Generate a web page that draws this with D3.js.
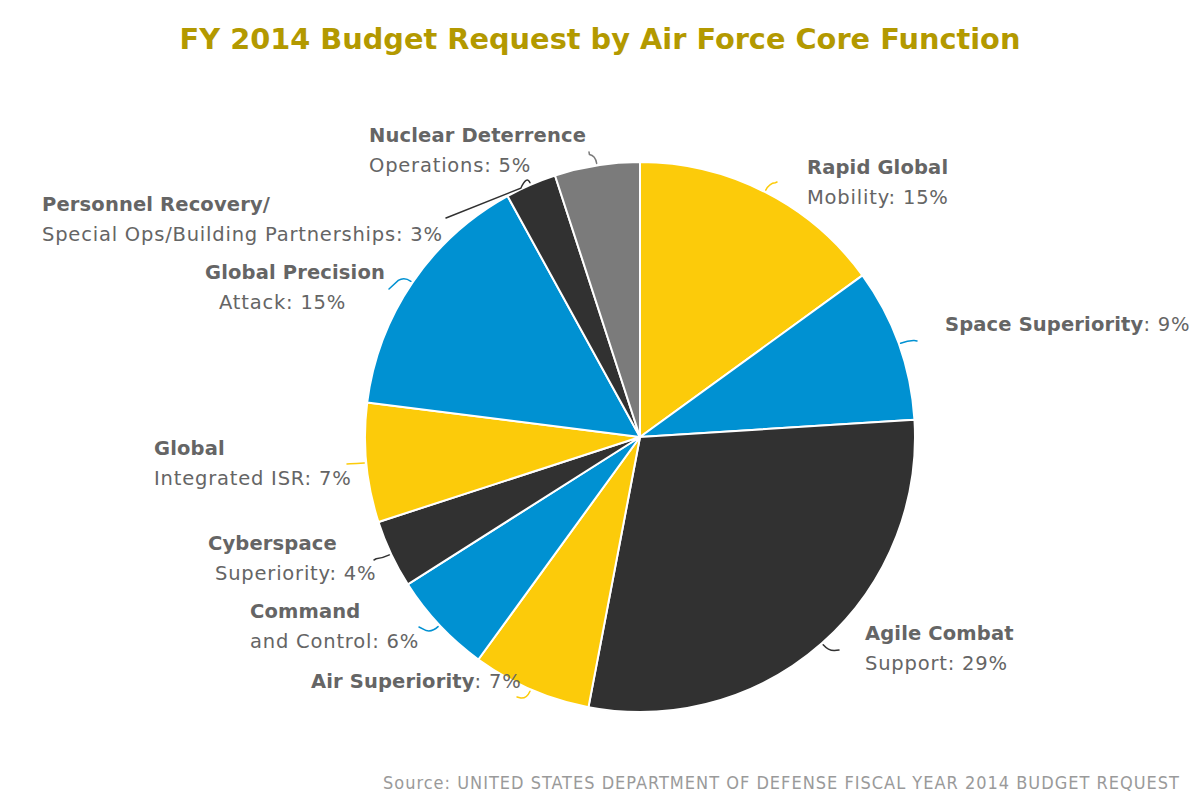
<!DOCTYPE html>
<html><head><meta charset="utf-8">
<script src="https://cdn.jsdelivr.net/npm/d3@7"></script>
<style>
html,body{margin:0;padding:0;background:#fff;}
text{white-space:pre;}
</style>
</head><body>
<svg id="chart" width="1200" height="800"></svg>
<script>
// ---- data ----
const categories = [
  "Rapid Global Mobility",
  "Space Superiority",
  "Agile Combat Support",
  "Air Superiority",
  "Command and Control",
  "Cyberspace Superiority",
  "Global Integrated ISR",
  "Global Precision Attack",
  "Personnel Recovery/Special Ops/Building Partnerships",
  "Nuclear Deterrence Operations"
];
const values = [15, 9, 29, 7, 6, 4, 7, 15, 3, 5];
// label text: [bold part, normal part] per line
const labelLines = [
  [["Rapid Global",""],["","Mobility: 15%"]],
  [["Space Superiority",": 9%"]],
  [["Agile Combat",""],["","Support: 29%"]],
  [["Air Superiority",": 7%"]],
  [["Command",""],["","and Control: 6%"]],
  [["Cyberspace",""],[""," Superiority: 4%"]],
  [["Global",""],["","Integrated ISR: 7%"]],
  [["Global Precision",""],["","  Attack: 15%"]],
  [["Personnel Recovery/",""],["","Special Ops/Building Partnerships: 3%"]],
  [["Nuclear Deterrence",""],["","Operations: 5%"]]
];
const titleText = "FY 2014 Budget Request by Air Force Core Function";
const sourceText = "Source: UNITED STATES DEPARTMENT OF DEFENSE FISCAL YEAR 2014 BUDGET REQUEST";

// ---- styles / layout ----
const palette = ["#FCCB0A","#0091D2","#313131","#FCCB0A","#0091D2","#313131","#FCCB0A","#0091D2","#313131","#7B7B7B"];
// label layout: text x, first baseline y, connector end point
const labelLayout = [
  {x:807, y:174, ex:777, ey:182},
  {x:945, y:331, ex:917, ey:341},
  {x:865, y:640, ex:839, ey:650},
  {x:311, y:688, ex:517, ey:697},
  {x:250, y:618, ex:419, ey:627},
  {x:208, y:550, ex:374, ey:560},
  {x:154, y:455, ex:347, ey:464},
  {x:205, y:279, ex:389, ey:289},
  {x:42,  y:211, ex:446, ey:218},
  {x:369, y:142, ex:589, ey:152}
];

const svg = d3.select("#chart");
const cx = 640, cy = 437, R = 275;

svg.append("text")
  .attr("x", 600).attr("y", 49)
  .attr("text-anchor","middle")
  .attr("font-family","DejaVu Sans")
  .attr("font-weight","bold")
  .attr("font-size", 28.8)
  .attr("fill","#B39900")
  .text(titleText);

const pie = d3.pie().sort(null).value(d => d);
const arcs = pie(values);
const arc = d3.arc().innerRadius(0).outerRadius(R);

const g = svg.append("g").attr("transform", `translate(${cx},${cy})`);
g.selectAll("path.slice").data(arcs).enter().append("path")
  .attr("class","slice")
  .attr("d", arc)
  .attr("fill", (d,i) => palette[i])
  .attr("stroke","#fff")
  .attr("stroke-width",2)
  .attr("stroke-linejoin","round");

// connectors
arcs.forEach((a,i) => {
  const mid = (a.startAngle + a.endAngle)/2;
  const L = labelLayout[i];
  const p0 = [cx + (R+2)*Math.sin(mid), cy - (R+2)*Math.cos(mid)];
  const p1 = [cx + (R+10)*Math.sin(mid), cy - (R+10)*Math.cos(mid)];
  const side = Math.sin(mid) >= 0 ? 1 : -1;
  const p2 = [L.ex, L.ey];
  const path = d3.path();
  path.moveTo(p0[0], p0[1]);
  path.quadraticCurveTo(p1[0], p1[1], p1[0] + side*6, p1[1] + (p2[1]-p1[1])*0.3);
  path.lineTo(p2[0], p2[1]);
  svg.append("path").attr("d", path.toString())
    .attr("fill","none").attr("stroke", palette[i]).attr("stroke-width",1.5)
    .attr("stroke-linecap","round");
});

// labels
labelLines.forEach((lines,i) => {
  const L = labelLayout[i];
  lines.forEach((ln,j) => {
    const t = svg.append("text")
      .attr("x", L.x).attr("y", L.y + j*29.5)
      .attr("font-family","DejaVu Sans")
      .attr("font-size", 19.5)
      .attr("fill","#656565");
    if (ln[0]) t.append("tspan").attr("font-weight","bold").attr("letter-spacing","0.15px").text(ln[0]);
    if (ln[1]) t.append("tspan").attr("letter-spacing","0.8px").text(ln[1]);
  });
});

svg.append("text")
  .attr("x", 1180).attr("y", 789)
  .attr("text-anchor","end")
  .attr("font-family","DejaVu Sans Condensed, DejaVu Sans")
  .attr("font-stretch","condensed")
  .attr("font-size", 18)
  .attr("letter-spacing","1px")
  .attr("fill","#9A9A9A")
  .text(sourceText);
</script>
</body></html>
